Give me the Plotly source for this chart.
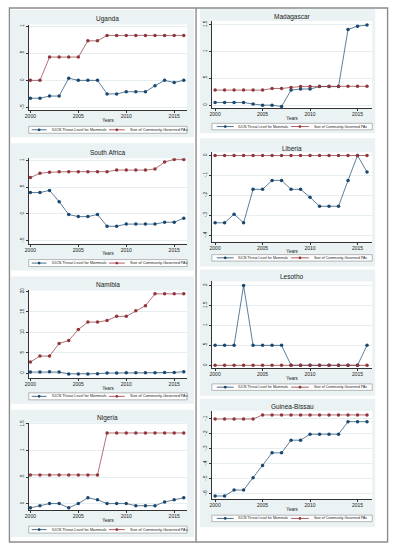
import plotly.graph_objects as go

W, H = 395, 550

years = list(range(2000, 2017))

countries = ["Uganda", "South Africa", "Namibia", "Nigeria",
             "Madagascar", "Liberia", "Lesotho", "Guinea-Bissau"]

series_names = ["IUCN Threat Level for Mammals", "Size of Community-Governed PAs"]

uganda_iucn = [-0.33, -0.33, -0.29, -0.29, 0.04, 0, 0, 0, -0.25, -0.25, -0.21, -0.21, -0.21, -0.10, 0, -0.04, 0]
uganda_pa = [0, 0, 0.43, 0.43, 0.43, 0.43, 0.73, 0.73, 0.83, 0.83, 0.83, 0.83, 0.83, 0.83, 0.83, 0.83, 0.83]

southafrica_iucn = [0.40, 0.40, 0.44, 0.23, -0.01, -0.05, -0.05, -0.01, -0.23, -0.23, -0.19, -0.19, -0.19, -0.19, -0.155, -0.155, -0.08]
southafrica_pa = [0.68, 0.76, 0.78, 0.79, 0.79, 0.79, 0.79, 0.79, 0.79, 0.82, 0.82, 0.82, 0.82, 0.84, 0.97, 1.02, 1.02]

namibia_iucn = [0.3, 0.3, 0.35, 0.3, -0.15, -0.15, -0.15, -0.1, 0.05, 0.05, 0.1, 0.1, 0.1, 0.1, 0.2, 0.2, 0.4]
namibia_pa = [2.75, 4.2, 4.2, 7.3, 8.0, 10.7, 12.5, 12.5, 12.9, 13.9, 13.9, 15.3, 16.5, 19.4, 19.4, 19.4, 19.4]

nigeria_iucn = [-0.08, -0.04, 0, 0, -0.08, 0, 0.11, 0.07, 0, 0, 0, -0.04, -0.04, -0.04, 0.03, 0.07, 0.11]
nigeria_pa = [0.54, 0.54, 0.54, 0.54, 0.54, 0.54, 0.54, 0.54, 1.33, 1.33, 1.33, 1.33, 1.33, 1.33, 1.33, 1.33, 1.33]

madagascar_iucn = [0.05, 0.05, 0.05, 0.05, 0.02, 0.0, 0.0, -0.025, 0.28, 0.30, 0.30, 0.345, 0.345, 0.345, 1.41, 1.47, 1.49]
madagascar_pa = [0.28, 0.28, 0.28, 0.28, 0.28, 0.28, 0.31, 0.31, 0.33, 0.345, 0.345, 0.35, 0.35, 0.35, 0.35, 0.35, 0.35]

liberia_iucn = [-0.338, -0.338, -0.295, -0.338, -0.17, -0.17, -0.125, -0.125, -0.17, -0.17, -0.21, -0.255, -0.255, -0.255, -0.125, 0, -0.083]
liberia_pa = [0] * 17

lesotho_iucn = [0.5, 0.5, 0.5, 2, 0.5, 0.5, 0.5, 0.5, 0, 0, 0, 0, 0, 0, 0, 0, 0.5]
lesotho_pa = [0] * 17

guineabissau_iucn = [-0.616, -0.616, -0.576, -0.576, -0.493, -0.411, -0.327, -0.327, -0.242, -0.242, -0.202, -0.202, -0.202, -0.202, -0.118, -0.118, -0.118]
guineabissau_pa = [-0.1, -0.1, -0.1, -0.1, -0.1, -0.073, -0.073, -0.073, -0.073, -0.073, -0.073, -0.073, -0.073, -0.073, -0.073, -0.073, -0.073]

iucn_values = [uganda_iucn, southafrica_iucn, namibia_iucn, nigeria_iucn,
               madagascar_iucn, liberia_iucn, lesotho_iucn, guineabissau_iucn]
pa_values = [uganda_pa, southafrica_pa, namibia_pa, nigeria_pa,
             madagascar_pa, liberia_pa, lesotho_pa, guineabissau_pa]

x_tick_vals = [2000, 2005, 2010, 2015]
y_tick_vals = [
    [-0.5, 0, 0.5, 1],
    [-0.5, 0, 0.5, 1],
    [0, 5, 10, 15, 20],
    [0, 0.5, 1, 1.5],
    [0, 0.5, 1, 1.5],
    [-0.4, -0.3, -0.2, -0.1, 0],
    [0, 0.5, 1, 1.5, 2],
    [-0.6, -0.5, -0.4, -0.3, -0.2, -0.1],
]
y_tick_text = [
    ["-.5", "0", ".5", "1"],
    ["-.5", "0", ".5", "1"],
    ["0", "5", "10", "15", "20"],
    ["0", ".5", "1", "1.5"],
    ["0", ".5", "1", "1.5"],
    ["-.4", "-.3", "-.2", "-.1", "0"],
    ["0", ".5", "1", "1.5", "2"],
    ["-.6", "-.5", "-.4", "-.3", "-.2", "-.1"],
]

# ---------------- layout geometry (pixels) ----------------
y_ranges = [
    [-0.555, 1.03], [-0.556, 1.043], [-1.14, 20.24], [-0.125, 1.524],
    [-0.061, 1.568], [-0.433, 0.0167], [-0.067, 2.1], [-0.638, -0.045],
]
# col, panel top, panel bottom, plot top, plot bottom, title y, legend top, legend bottom
geom = [
    (0, 7, 135, 21.7, 108, 16, 124, 131),
    (0, 141, 269, 156, 242, 150, 258, 265),
    (0, 275, 403, 289, 377, 283, 392, 399),
    (0, 409, 537, 422, 510, 417, 526, 533),
    (1, 6, 131, 18, 106, 14, 121, 127.5),
    (1, 136, 265, 150, 240, 146, 253, 259.5),
    (1, 268, 395, 280, 367, 275, 383, 389.5),
    (1, 398, 527, 410, 499, 406, 515, 521.5),
]
col_panel_x = [(7, 192), (198, 375)]
col_plot_x = [(25, 185), (210, 372)]
col_x_range = [[1999.83, 2016.35], [1999.66, 2016.55]]
# legend element x positions per column
col_leg = [
    dict(l1=(28, 43), t1=46, l2=(106, 122), t2=125, fs=3.8),
    dict(l1=(215, 232), t1=234, l2=(290, 308), t2=311, fs=3.5),
]

NAVY = "#1a476f"
MAROON = "#90353b"
PANEL = "#eaf2f3"
FONT = "Arial, Liberation Sans, sans-serif"


def px(x):
    return x / W


def py(y):
    return 1 - y / H


fig = go.Figure()
shapes = []
annotations = []
layout = {}

for i in range(8):
    col, ptop, pbot, atop, abot, ty, lt, lb = geom[i]
    n = "" if i == 0 else str(i + 1)
    xa, ya = "x" + n, "y" + n

    fig.add_trace(go.Scatter(
        x=years, y=iucn_values[i], mode="lines+markers", name=series_names[0],
        xaxis=xa, yaxis=ya, showlegend=False,
        line=dict(color=NAVY, width=0.7),
        marker=dict(color=NAVY, size=3.5, symbol="circle"),
    ))
    fig.add_trace(go.Scatter(
        x=years, y=pa_values[i], mode="lines+markers", name=series_names[1],
        xaxis=xa, yaxis=ya, showlegend=False,
        line=dict(color=MAROON, width=0.7),
        marker=dict(color=MAROON, size=3.5, symbol="circle"),
    ))

    x0, x1 = col_plot_x[col]
    layout["xaxis" + n] = dict(
        domain=[px(x0), px(x1)], range=col_x_range[col], anchor=ya,
        tickvals=x_tick_vals, ticks="outside", ticklen=2, tickwidth=0.6,
        tickcolor="#333", showline=True, linecolor="#333", linewidth=0.7,
        showgrid=False, zeroline=False, ticklabelstandoff=-1,
        tickfont=dict(size=5, color="#222", family=FONT),
        title=dict(text="Years", font=dict(size=4.6, color="#222", family=FONT), standoff=0),
        fixedrange=True,
    )
    layout["yaxis" + n] = dict(
        domain=[py(abot), py(atop)], range=y_ranges[i], anchor=xa,
        tickvals=y_tick_vals[i], ticktext=y_tick_text[i], tickangle=-90,
        ticks="outside", ticklen=2, tickwidth=0.6, tickcolor="#333",
        showline=True, linecolor="#333", linewidth=0.7,
        showgrid=True, gridcolor="#e6eef0", gridwidth=0.6, zeroline=False,
        tickfont=dict(size=4.6, color="#222", family=FONT),
        fixedrange=True,
    )

    # panel background and white plot region
    pxl, pxr = col_panel_x[col]
    shapes.append(dict(type="rect", xref="paper", yref="paper", layer="below",
                       x0=px(pxl), x1=px(pxr), y0=py(pbot), y1=py(ptop),
                       fillcolor=PANEL, line=dict(width=0)))
    shapes.append(dict(type="rect", xref="paper", yref="paper", layer="below",
                       x0=px(x0), x1=px(x1), y0=py(abot), y1=py(atop),
                       fillcolor="white", line=dict(width=0)))

    # title
    annotations.append(dict(text=countries[i], xref="paper", yref="paper",
                            x=px((x0 + x1) / 2), y=py(ty), showarrow=False,
                            xanchor="center", yanchor="middle",
                            font=dict(size=6.5, color="#222", family=FONT)))

    # legend box
    lg = col_leg[col]
    shapes.append(dict(type="rect", xref="paper", yref="paper",
                       x0=px(x0), x1=px(x1), y0=py(lb), y1=py(lt),
                       fillcolor="white", line=dict(color="#8a8a8a", width=0.6)))
    ym = (lt + lb) / 2
    for (la, lbx), tx, colr, name in [(lg["l1"], lg["t1"], NAVY, series_names[0]),
                                      (lg["l2"], lg["t2"], MAROON, series_names[1])]:
        shapes.append(dict(type="line", xref="paper", yref="paper",
                           x0=px(la), x1=px(lbx), y0=py(ym), y1=py(ym),
                           line=dict(color=colr, width=0.8)))
        mc = (la + lbx) / 2
        r = 1.4
        shapes.append(dict(type="circle", xref="paper", yref="paper",
                           x0=px(mc - r), x1=px(mc + r), y0=py(ym + r), y1=py(ym - r),
                           fillcolor=colr, line=dict(color=colr, width=0)))
        annotations.append(dict(text=name, xref="paper", yref="paper",
                                x=px(tx), y=py(ym), showarrow=False,
                                xanchor="left", yanchor="middle",
                                font=dict(size=lg["fs"], color="#222", family=FONT)))

# outer frame and column divider
shapes.append(dict(type="rect", xref="paper", yref="paper",
                   x0=px(5.5), x1=px(387.5), y0=py(542), y1=py(5),
                   line=dict(color="#8c8c8c", width=1.4)))
shapes.append(dict(type="line", xref="paper", yref="paper",
                   x0=px(194), x1=px(194), y0=py(542), y1=py(5),
                   line=dict(color="#8c8c8c", width=1.4)))

fig.update_layout(
    width=W, height=H, margin=dict(l=0, r=0, t=0, b=0),
    paper_bgcolor="white", plot_bgcolor="rgba(0,0,0,0)",
    showlegend=False, shapes=shapes, annotations=annotations,
    font=dict(family=FONT),
    **layout,
)

fig.write_html(
    "out.html",
    config={"displayModeBar": False},
    post_script="document.body.style.margin='0';document.body.style.overflow='hidden';",
)
